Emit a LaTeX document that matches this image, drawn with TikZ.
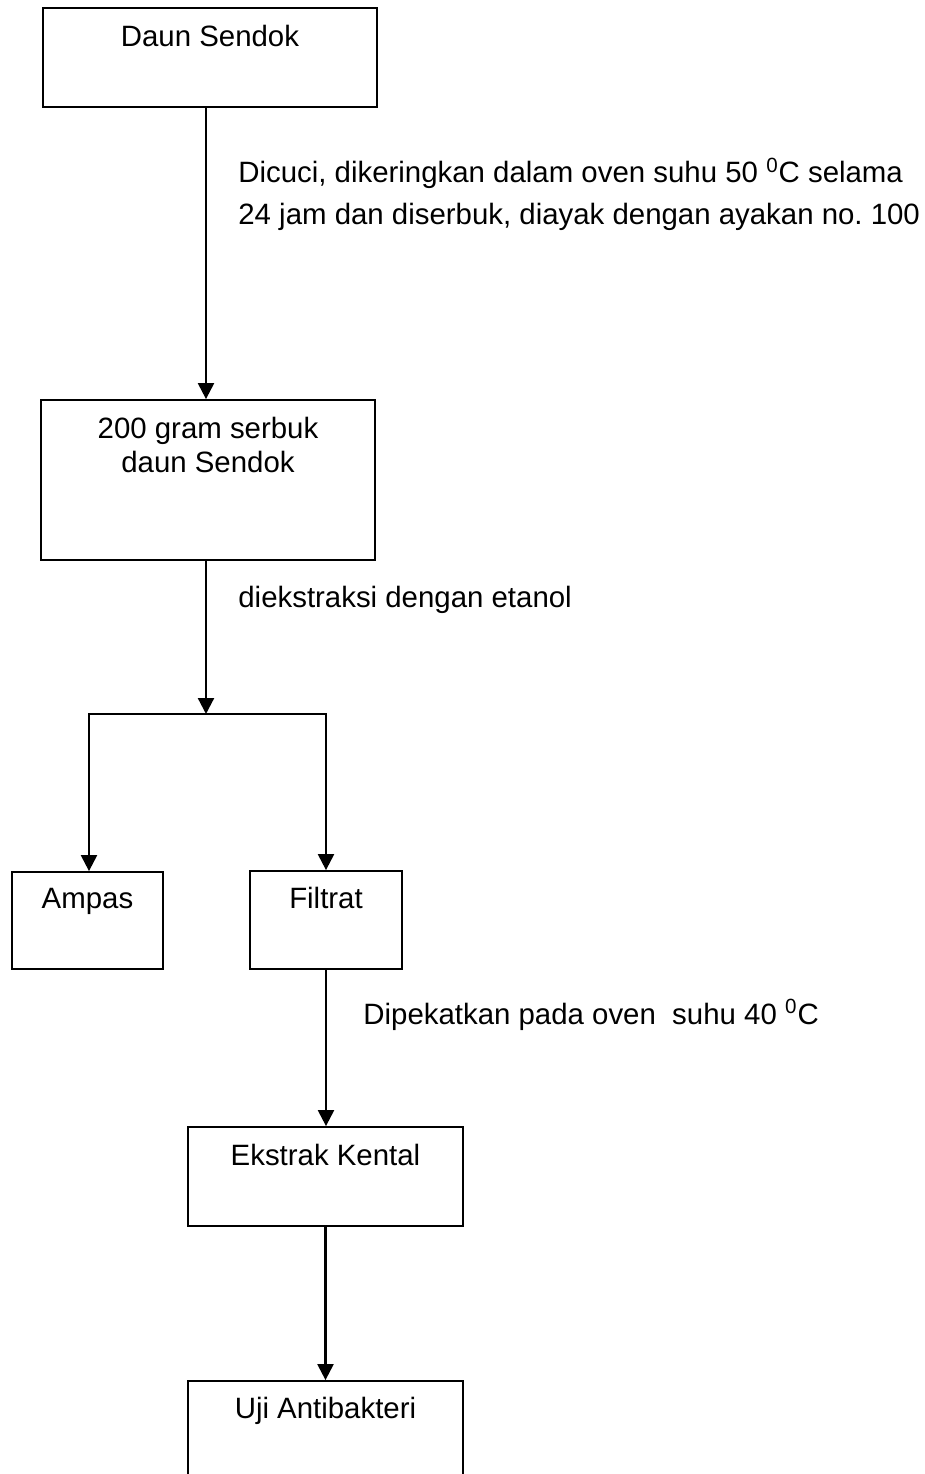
\documentclass[tikz,border=0pt]{standalone}
\usepackage{fontspec}
\setmainfont{Liberation Sans}
\usetikzlibrary{arrows.meta}

\tikzset{
  kotak/.style={draw, line width=0.9pt, inner sep=0pt},
  judul/.style={anchor=north, yshift=-9pt, inner sep=0pt, align=center},
  panah/.style={line width=1.1pt, -{Triangle[width=8pt,length=8pt]}},
  ket/.style={anchor=base west, align=left, inner sep=0pt},
}

\begin{document}
\begin{tikzpicture}[x=0.5pt, y=-0.5pt, font=\fontsize{14.7}{16.6}\selectfont]
\useasboundingbox (0,0) rectangle (925,1474);

%Kotak
\node[kotak, minimum width=167pt, minimum height=49.5pt, label={[judul]north:Daun Sendok}] (daun) at (210,57.5) {};
\node[kotak, minimum width=167pt, minimum height=80pt, label={[judul]north:{200 gram serbuk\\daun Sendok}}] (serbuk) at (208,480) {};
\node[kotak, minimum width=75.5pt, minimum height=48.5pt, label={[judul, yshift=0.5pt]north:Ampas}] (ampas) at (87.5,920.5) {};
\node[kotak, minimum width=76pt, minimum height=49pt, label={[judul, yshift=0.5pt]north:Filtrat}] (filtrat) at (326,920) {};
\node[kotak, minimum width=137.5pt, minimum height=49.5pt, label={[judul]north:Ekstrak Kental}] (ekstrak) at (325.5,1176.5) {};
\node[kotak, minimum width=137.5pt, minimum height=49.5pt, label={[judul, yshift=0.5pt]north:Uji Antibakteri}] (uji) at (325.5,1430.5) {};

%Percabangan
\coordinate (pisah) at (206,714);
\coordinate (kiri) at (89,714);
\coordinate (kanan) at (326,714);

%Panah
\draw[panah] ([xshift=-2pt]daun.south) -- ([xshift=-2pt]daun.south |- serbuk.north);
\draw[panah] ([xshift=-1pt]serbuk.south) -- (pisah);
\draw[line width=1.1pt, line cap=rect] (kiri) -- (kanan);
\foreach \a/\b in {kiri/ampas, kanan/filtrat}
	\draw[panah] (\a) -- (\a |- \b.north);
\draw[panah] (filtrat.south) -- (filtrat.south |- ekstrak.north);
\draw[panah] (ekstrak.south) -- (uji.north);

%Keterangan
\node[ket] (cuci) at (238,224) {Dicuci, dikeringkan dalam oven suhu 50 \textsuperscript{0}C selama\\[4pt]24 jam dan diserbuk, diayak dengan ayakan no.\ 100};
\node[ket] (ekstraksi) at (238,607) {diekstraksi dengan etanol};
\node[ket] (pekat) at (363,1024) {Dipekatkan pada oven\ \ suhu 40 \textsuperscript{0}C};

\end{tikzpicture}
\end{document}
